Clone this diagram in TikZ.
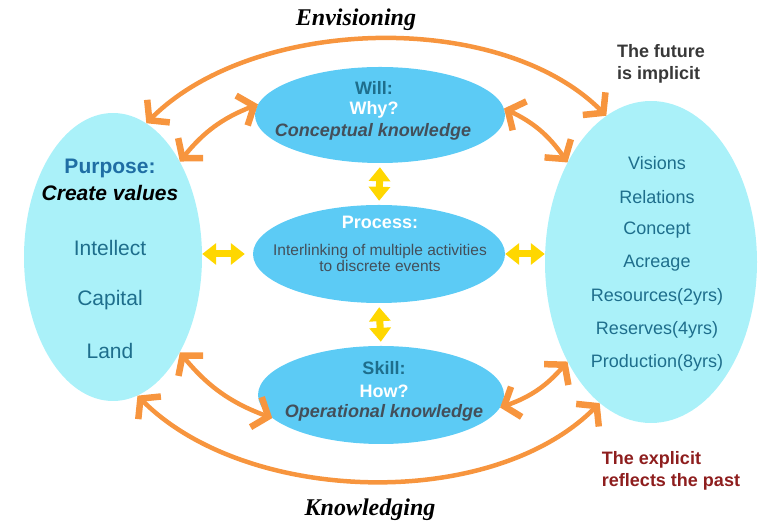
\documentclass[tikz,border=0pt]{standalone}
\usepackage{fontspec}
\setmainfont{Liberation Sans}
\newfontfamily\timesfont{Liberation Serif}
\usetikzlibrary{shapes.geometric,arrows.meta}

\definecolor{palecyan}{HTML}{AAF1F9}
\definecolor{midcyan}{HTML}{5CCBF5}
\definecolor{tealtext}{HTML}{1E6E8C}
\definecolor{bluetext}{HTML}{1F6EA4}
\definecolor{greytext}{HTML}{434F5A}
\definecolor{orangearr}{HTML}{F7953E}
\definecolor{goldarr}{HTML}{FFD700}
\definecolor{darkred}{HTML}{8E1E1E}

\begin{document}
\begin{tikzpicture}
[
x=1pt,y=1pt,
bigoval/.style 2 args={ellipse,fill=palecyan,inner sep=0pt,minimum width=#1,minimum height=#2},
smalloval/.style 2 args={ellipse,fill=midcyan,inner sep=0pt,minimum width=#1,minimum height=#2},
item/.style={text=tealtext,inner sep=0pt,font=\fontsize{#1}{#1}\selectfont},
item/.default=18,
title/.style={text=tealtext,inner sep=0pt,font=\fontsize{18}{18}\selectfont\bfseries},
knowl/.style={text=greytext,inner sep=0pt,font=\fontsize{18}{18}\selectfont\bfseries\itshape},
side/.style={align=left,inner sep=0pt,font=\fontsize{18}{22}\selectfont\bfseries},
flow/.style={inner sep=0pt,font=\fontsize{24}{24}\selectfont\timesfont\bfseries\itshape},
linkarr/.style={draw=orangearr,line width=4.5pt,
            {Straight Barb[sharp,length=13pt,width=32pt,line width=6.5pt]}-{Straight Barb[sharp,length=13pt,width=32pt,line width=6.5pt]}},
yarr/.style={draw=goldarr,line width=7pt,
            {Triangle[length=14pt,width=21pt]}-{Triangle[length=14pt,width=21pt]}},
]
\useasboundingbox (0,0) rectangle (761,524);

%Place the ovals
\node[bigoval={178}{288}] (lft) at (113,267) {};
\node[bigoval={212}{322}] (rgt) at (651,262) {};
\node[smalloval={250}{96}] (will) at (380,409) {};
\node[smalloval={252}{98}] (proc) at (379,270) {};
\node[smalloval={246}{98}] (skill) at (381,129) {};

%Texts of the left oval
\node[title,text=bluetext,font=\fontsize{21}{21}\selectfont\bfseries] (purp) at (110,356) {Purpose:};
\node[title,text=black,font=\fontsize{21}{21}\selectfont\bfseries\itshape] (crval) at (110,331) {Create values};
\node[item=21] (intel) at (110,276) {Intellect};
\node[item=21] (capit) at (110,224) {Capital};
\node[item=21] (land) at (110,173) {Land};

%Texts of the right oval
\node[item] (vis) at (657,361) {Visions};
\node[item] (rel) at (657,327) {Relations};
\node[item] (conc) at (657,294) {Concept};
\node[item] (acre) at (657,261) {Acreage};
\node[item] (reso) at (657,227) {Resources(2yrs)};
\node[item] (rese) at (657,194) {Reserves(4yrs)};
\node[item] (prod) at (657,161) {Production(8yrs)};

%Texts of the middle ovals
\node[title] (willt) at (374,436) {Will:};
\node[title,text=white] (why) at (374,414) {Why?};
\node[knowl] (concept) at (373,392) {Conceptual knowledge};
\node[title,text=white] (proct) at (380,302) {Process:};
\node[text=greytext,align=center,inner sep=0pt,font=\fontsize{15.5}{16}\selectfont] (inter) at (380,266)
  {Interlinking of multiple activities\\to discrete events};
\node[title] (skillt) at (384,156) {Skill:};
\node[title,text=white] (how) at (384,133) {How?};
\node[knowl] (oper) at (384,111) {Operational knowledge};

%Side texts
\node[flow] (envis) at (356,504) {Envisioning};
\node[flow] (knowl) at (370,14) {Knowledging};
\node[side,text=black!78] (future) at (661,460) {The future\\is implicit};
\node[side,text=darkred] (explic) at (671,53) {The explicit\\reflects the past};

%Draw the links
\draw[linkarr] (lft.76) to[out=45,in=135,looseness=0.84] (rgt.107);
\draw[linkarr] (lft.-80) to[out=-45,in=-135,looseness=0.85] (rgt.-110);
\draw[linkarr] (lft.55) to[bend left=15] (will.175);
\draw[linkarr] (will.3) to[bend left=15] (rgt.130);
\draw[linkarr] (lft.-55) to[bend right=15] (skill.192);
\draw[linkarr] (skill.-6) to[bend right=15] (rgt.-130);

\draw[yarr,shorten <=4pt,shorten >=4pt] (will.south) -- (proc.north);
\draw[yarr,shorten <=4pt,shorten >=4pt] (skill.north) -- (proc.south);
\draw[yarr,shorten >=8pt] (lft.east |- proc.west) -- (proc.west);
\draw[yarr] (proc.east) -- (proc.east -| rgt.west);
\end{tikzpicture}
\end{document}
